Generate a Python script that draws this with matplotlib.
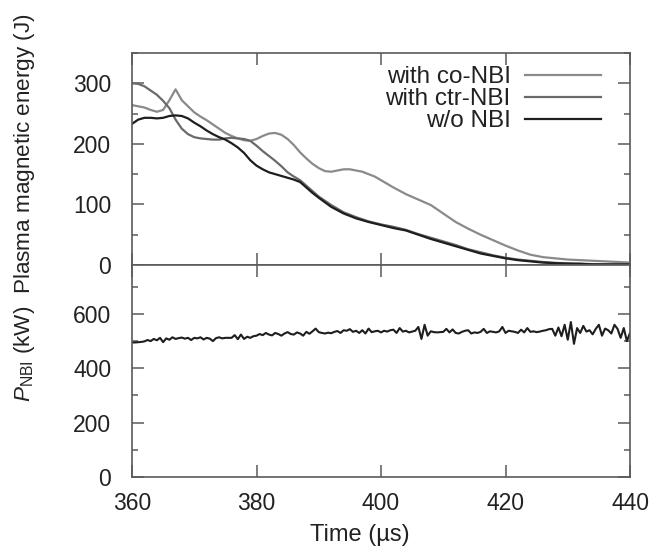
import matplotlib
matplotlib.use("Agg")
import matplotlib.pyplot as plt
from matplotlib.ticker import MultipleLocator

plt.rcParams['font.family'] = ['Liberation Sans', 'DejaVu Sans']
plt.rcParams['mathtext.fontset'] = 'custom'
plt.rcParams['mathtext.rm'] = 'Liberation Sans'
plt.rcParams['mathtext.it'] = 'Liberation Sans:italic'

# ---- data ----
t_wo = [360, 361, 362, 363, 364, 365, 366, 367, 368, 369, 370, 371, 372, 373, 374, 375, 376, 377,
        378, 379, 380, 381, 382, 383, 384, 385, 386, 387, 388, 389, 390, 392, 394, 396, 398, 400,
        402, 404, 406, 408, 410, 412, 414, 416, 418, 420, 422, 424, 426, 428, 430, 432, 434, 436, 438, 440]
e_wo = [233, 240, 243, 243, 242, 243, 246, 247, 246, 242, 235, 229, 222, 216, 211, 207, 201, 194,
        185, 173, 164, 158, 153, 150, 147, 144, 141, 137, 128, 119, 111, 96, 85, 77, 71, 66,
        61, 57, 50, 43, 37, 31, 25, 19, 15, 11, 8, 6, 4, 3, 2, 2, 1, 1, 1, 1]

t_ctr = [360, 361, 362, 363, 364, 365, 366, 367, 368, 369, 370, 371, 372, 373, 374, 375, 376, 377,
         378, 379, 380, 381, 382, 383, 384, 385, 386, 387, 388, 389, 390, 392, 394, 396, 398, 400,
         402, 404, 406, 408, 410, 412, 414, 416, 418, 420, 422, 424, 426, 428, 430, 432, 434, 436, 438, 440]
e_ctr = [300, 299, 295, 288, 281, 271, 259, 240, 225, 216, 211, 209, 208, 207, 207, 209, 210, 209,
         208, 205, 197, 188, 180, 172, 163, 153, 146, 140, 131, 122, 113, 99, 87, 79, 72, 67,
         63, 58, 51, 45, 39, 33, 26, 21, 16, 12, 9, 7, 5, 3.5, 3, 2, 1.5, 1, 1, 1]

t_co = [360, 361, 362, 363, 364, 365, 366, 367, 368, 369, 370, 371, 372, 373, 374, 375, 376, 377,
        378, 379, 380, 381, 382, 383, 384, 385, 386, 387, 388, 389, 390, 391, 392, 393, 394, 395,
        396, 397, 398, 399, 400, 402, 404, 406, 408, 410, 412, 414, 416, 418, 420, 422, 424, 426,
        428, 430, 432, 434, 436, 438, 440]
e_co = [264, 262, 260, 256, 253, 256, 272, 290, 272, 262, 252, 245, 239, 232, 225, 218, 213, 209,
        206, 205, 208, 213, 217, 218, 215, 208, 198, 186, 176, 167, 160, 155, 154, 156, 158, 158,
        156, 154, 150, 146, 140, 128, 117, 108, 99, 85, 71, 60, 50, 41, 32, 24, 17, 13,
        11, 9, 8, 7, 6, 5, 4]

t_nbi = [360 + 0.5 * i for i in range(161)]
p_nbi = [495, 495, 496, 497, 499, 504, 500, 508, 503, 512,
         496, 510, 505, 514, 508, 511, 513, 509, 512, 504,
         512, 510, 514, 506, 512, 509, 500, 511, 514, 510,
         512, 512, 512, 522, 507, 524, 508, 516, 512, 518,
         520, 526, 522, 530, 524, 521, 530, 526, 520, 528,
         533, 526, 524, 532, 528, 520, 534, 527, 536, 546,
         533, 530, 528, 531, 529, 534, 537, 530, 540, 538,
         544, 534, 538, 530, 540, 528, 546, 533, 536, 538,
         532, 538, 535, 540, 542, 530, 548, 535, 538, 532,
         535, 538, 552, 508, 560, 520, 536, 533, 532, 533,
         534, 545, 532, 543, 530, 528, 534, 538, 540, 528,
         532, 530, 534, 545, 530, 536, 534, 532, 536, 552,
         530, 538, 536, 534, 530, 542, 532, 548, 534, 536,
         533, 535, 538, 540, 544, 545, 520, 550, 518, 560,
         505, 570, 490, 548, 530, 556, 535, 540, 525, 545,
         560, 520, 546, 540, 528, 560, 545, 512, 548, 500,
         530]

labels = ["with co-NBI", "with ctr-NBI", "w/o NBI"]
x_ticks = [360, 380, 400, 420, 440]

# ---- figure ----
W, H = 671, 547
fig = plt.figure(figsize=(W / 100, H / 100), dpi=100)
left, right = 132 / W, 630 / W
y_top, y_mid, y_bot = 1 - 53 / H, 1 - 265 / H, 1 - 477 / H
ax1 = fig.add_axes([left, y_mid, right - left, y_top - y_mid])
ax2 = fig.add_axes([left, y_bot, right - left, y_mid - y_bot], sharex=ax1)

spine_col = '#5a5a5a'
txt_col = '#222222'

ax1.plot(t_co, e_co, color='#8a8a8a', lw=1.6, label=labels[0])
ax1.plot(t_ctr, e_ctr, color='#6a6a6a', lw=1.6, label=labels[1])
ax1.plot(t_wo, e_wo, color='#1e1e1e', lw=1.6, label=labels[2])
ax2.plot(t_nbi, p_nbi, color='#1e1e1e', lw=1.5)

ax1.set_xlim(360, 440)
ax1.set_ylim(0, 350)
ax2.set_ylim(0, 780)
ax1.set_xticks(x_ticks)
ax1.set_yticks([0, 100, 200, 300])
ax1.yaxis.set_minor_locator(MultipleLocator(50))
ax2.set_yticks([0, 200, 400, 600])
ax2.yaxis.set_minor_locator(MultipleLocator(100))

for ax in (ax1, ax2):
    for s in ax.spines.values():
        s.set_color(spine_col)
        s.set_linewidth(1.2)
    ax.tick_params(which='both', direction='in', top=True, right=True,
                   color=spine_col, width=1.1, labelsize=16.5, labelcolor=txt_col)
    ax.tick_params(which='major', length=8.5)
    ax.tick_params(which='minor', length=4.3)
    ax.tick_params(axis='y', which='major', pad=15)
    ax.tick_params(axis='x', which='major', pad=11)
ax1.tick_params(axis='x', labelbottom=False)
ax2.set_xticklabels([str(v) for v in x_ticks])

fig.text(360 / W, 1 - 535 / H, 'Time (\u00b5s)', ha='center', va='center',
         fontsize=17, color=txt_col)

leg = ax1.legend(loc='upper right', frameon=False, markerfirst=False, fontsize=17.5,
                 handlelength=3.1, labelspacing=0.0, handletextpad=0.6,
                 borderaxespad=0.3, bbox_to_anchor=(0.975, 1.018))
for tx in leg.get_texts():
    tx.set_color(txt_col)
    tx.set_ha('right')

fig.text(25 / W, 1 - 208 / H, r'$P_{\mathrm{NBI}}$ (kW)  Plasma magnetic energy (J)',
         rotation=90, ha='center', va='center', fontsize=16.2, color=txt_col)

fig.savefig('out.png', dpi=100, facecolor='white')
